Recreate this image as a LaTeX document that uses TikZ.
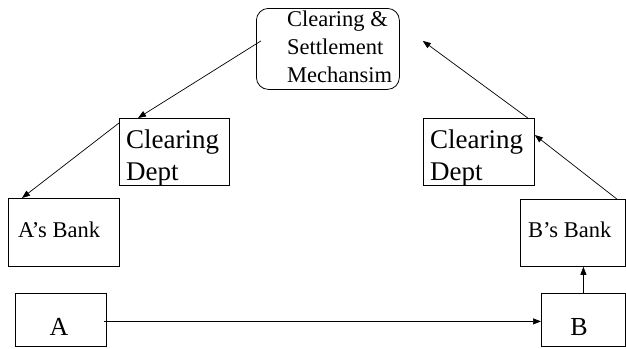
\documentclass[tikz,border=0pt]{standalone}
\usepackage{fontspec}
\setmainfont{Liberation Serif}
\usetikzlibrary{arrows.meta}
\begin{document}
\begin{tikzpicture}[x=1pt,y=-1pt,
  box/.style={draw, line width=0.8pt, rectangle, inner sep=0pt, anchor=north west},
  txt/.style={inner sep=0pt, anchor=base west},
  conn/.style={line width=0.7pt, -{Triangle[length=8pt,width=6pt]}}]
\useasboundingbox (0,0) rectangle (626,348);
% boxes
\node[box, rounded corners=12pt, minimum width=143pt, minimum height=81pt] (top) at (256,8) {};
\node[box, minimum width=110pt, minimum height=67pt] (cdl) at (119,118) {};
\node[box, minimum width=111pt, minimum height=68pt] (abank) at (8,198) {};
\node[box, minimum width=111pt, minimum height=67pt] (cdr) at (423,118) {};
\node[box, minimum width=105pt, minimum height=67pt] (bbank) at (520,199) {};
\node[box, minimum width=91pt, minimum height=53pt] (A) at (15,293) {};
\node[box, minimum width=84pt, minimum height=53pt] (B) at (541,293) {};
% texts
\node[txt, font=\fontsize{22.5}{27}\selectfont] (t1) at (287,27) {Clearing \&};
\node[txt, font=\fontsize{22.5}{27}\selectfont] (t2) at (287,54.5) {Settlement};
\node[txt, font=\fontsize{22.5}{27}\selectfont] (t3) at (287,82) {Mechansim};
\node[txt, font=\fontsize{27}{32}\selectfont] (c1) at (126,148) {Clearing};
\node[txt, font=\fontsize{27}{32}\selectfont] (c2) at (126,180) {Dept};
\node[txt, font=\fontsize{27}{32}\selectfont] (c3) at (430,148) {Clearing};
\node[txt, font=\fontsize{27}{32}\selectfont] (c4) at (430,180) {Dept};
\node[txt, font=\fontsize{22.5}{27}\selectfont] (ab) at (18,237) {A’s Bank};
\node[txt, font=\fontsize{22.5}{27}\selectfont] (bb) at (528,237) {B’s Bank};
\node[inner sep=0pt, anchor=base, font=\fontsize{26}{30}\selectfont] (la) at (59,335) {A};
\node[inner sep=0pt, anchor=base, font=\fontsize{26}{30}\selectfont] (lb) at (579,335) {B};
% connectors
\draw[conn] ([xshift=5pt,yshift=8pt]top.west) -- ([xshift=19pt]cdl.north west);
\draw[conn] ([yshift=-5pt]cdl.north west) -- ([xshift=14pt]abank.north west);
\draw[conn] ([xshift=-3pt,yshift=-1.5pt]A.east) -- ([yshift=-1.5pt]B.west);
\draw[conn] (B.north) -- (B.north |- bbank.south);
\draw[conn] ([xshift=-9pt]bbank.north east) -- ([yshift=-17pt]cdr.north east);
\draw[conn] ([xshift=-7pt]cdr.north east) -- ([xshift=23pt,yshift=8pt]top.east);
\end{tikzpicture}
\end{document}
